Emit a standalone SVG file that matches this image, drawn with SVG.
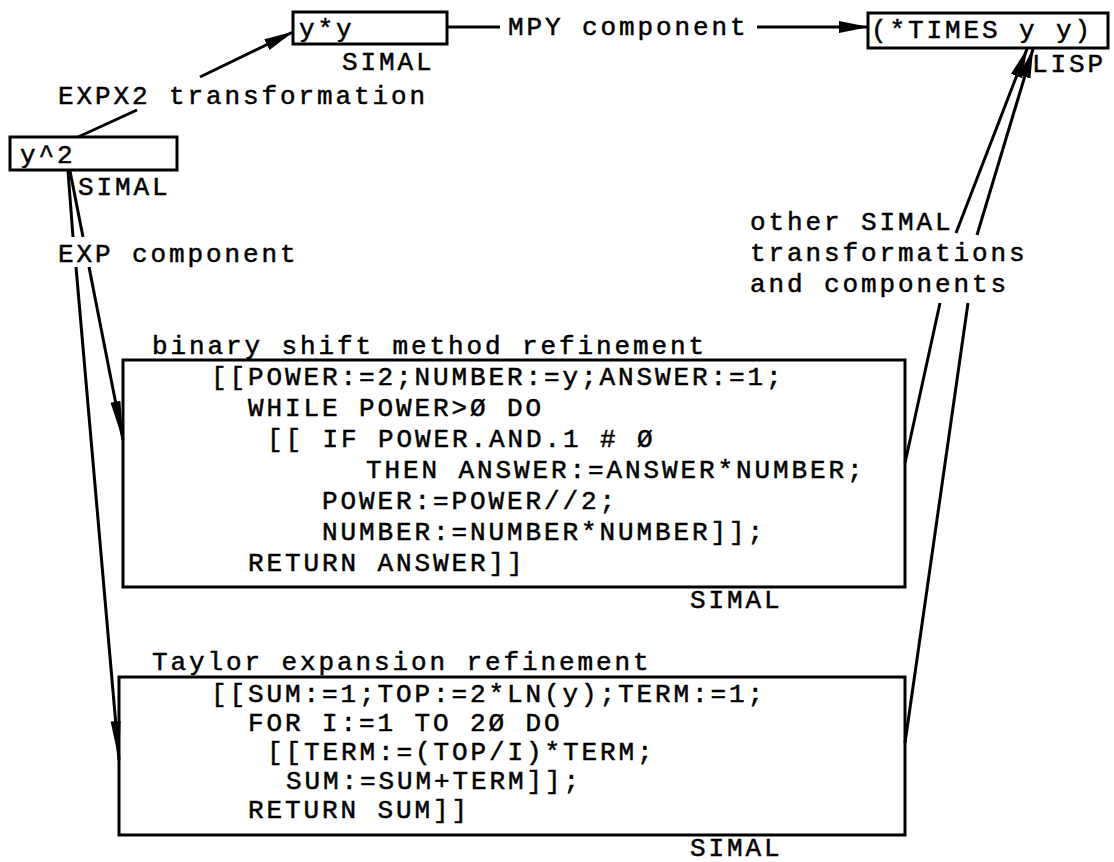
<svg xmlns="http://www.w3.org/2000/svg" width="1114" height="862" viewBox="0 0 1114 862">
<style>
.t{font-family:"Liberation Mono","DejaVu Sans Mono",monospace;font-size:26px;letter-spacing:2.9px;fill:#000;stroke:#000;stroke-width:0.5px}
.b{fill:none;stroke:#000;stroke-width:3}
.c{stroke:#000;stroke-width:3;fill:none}
</style>
<defs>
<marker id="ah" markerUnits="userSpaceOnUse" viewBox="0 0 30 14" refX="29" refY="7" markerWidth="30" markerHeight="14" orient="auto"><path d="M0,1 L30,7 L0,13 Z" fill="#000"/></marker>
<marker id="ahL" markerUnits="userSpaceOnUse" viewBox="0 0 40 12" refX="39" refY="6" markerWidth="40" markerHeight="12" orient="auto"><path d="M0,1 L40,6 L0,11 Z" fill="#000"/></marker>
</defs>
<rect width="1114" height="862" fill="#fff"/>
<g id="connectors">
<line class="c" x1="78" y1="137" x2="137" y2="110"/>
<line class="c" x1="200" y1="77" x2="293" y2="32" marker-end="url(#ah)"/>
<line class="c" x1="447" y1="27" x2="500" y2="27"/>
<line class="c" x1="757" y1="27" x2="868" y2="27" marker-end="url(#ah)"/>
<line class="c" x1="70" y1="171" x2="83" y2="237"/>
<line class="c" x1="89" y1="267" x2="123" y2="440" marker-end="url(#ahL)"/>
<line class="c" x1="68" y1="171" x2="73" y2="237"/>
<line class="c" x1="76" y1="267" x2="119" y2="760" marker-end="url(#ahL)"/>
<line class="c" x1="905" y1="463" x2="940" y2="303"/>
<line class="c" x1="956" y1="233" x2="1027" y2="49" marker-end="url(#ah)"/>
<line class="c" x1="905" y1="743" x2="968" y2="303"/>
<line class="c" x1="977" y1="235" x2="1033" y2="49" marker-end="url(#ah)"/>
</g>
<g id="yy">
<rect class="b" x="293" y="12" width="154" height="32"/>
<text class="t" x="299" y="37">y*y</text>
<text class="t" x="342" y="70">SIMAL</text>
</g>
<g id="times">
<rect class="b" x="868" y="13" width="240" height="35"/>
<text class="t" x="871" y="38">(*TIMES y y)</text>
<text class="t" x="1032" y="72">LISP</text>
</g>
<g id="mpy-label"><text class="t" x="508" y="35">MPY component</text></g>
<g id="expx2-label"><text class="t" x="58" y="104">EXPX2 transformation</text></g>
<g id="y2">
<rect class="b" x="10" y="137" width="167" height="33"/>
<text class="t" x="20" y="163">y^2</text>
<text class="t" x="78" y="195">SIMAL</text>
</g>
<g id="exp-label"><text class="t" x="58" y="262">EXP component</text></g>
<g id="other-label">
<text class="t" x="750" y="230">other SIMAL</text>
<text class="t" x="750" y="261">transformations</text>
<text class="t" x="750" y="292">and components</text>
</g>
<g id="binary">
<text class="t" x="152" y="354">binary shift method refinement</text>
<rect class="b" x="123" y="360" width="782" height="227"/>
<text class="t" x="211" y="385">[[POWER:=2;NUMBER:=y;ANSWER:=1;</text>
<text class="t" x="248" y="416">WHILE POWER&gt;Ø DO</text>
<text class="t" x="267" y="447">[[ IF POWER.AND.1 # Ø</text>
<text class="t" x="366" y="478">THEN ANSWER:=ANSWER*NUMBER;</text>
<text class="t" x="322" y="509">POWER:=POWER//2;</text>
<text class="t" x="322" y="540">NUMBER:=NUMBER*NUMBER]];</text>
<text class="t" x="248" y="571">RETURN ANSWER]]</text>
<text class="t" x="690" y="608">SIMAL</text>
</g>
<g id="taylor">
<text class="t" x="152" y="670">Taylor expansion refinement</text>
<rect class="b" x="119" y="677" width="786" height="158"/>
<text class="t" x="211" y="702">[[SUM:=1;TOP:=2*LN(y);TERM:=1;</text>
<text class="t" x="248" y="731">FOR I:=1 TO 2Ø DO</text>
<text class="t" x="267" y="760">[[TERM:=(TOP/I)*TERM;</text>
<text class="t" x="286" y="789">SUM:=SUM+TERM]];</text>
<text class="t" x="248" y="818">RETURN SUM]]</text>
<text class="t" x="690" y="856">SIMAL</text>
</g>
</svg>
